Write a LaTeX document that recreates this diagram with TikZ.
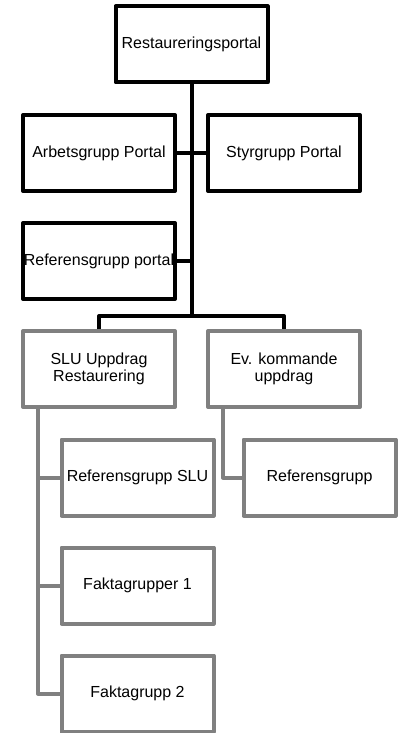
\documentclass[tikz,border=0pt]{standalone}
\usepackage{fontspec}
\setmainfont{Liberation Sans}
\usetikzlibrary{positioning}

\begin{document}
\begin{tikzpicture}[
    box/.style={draw, line width=4pt, line join=round, fill=white,
        minimum width=152pt, minimum height=76pt, inner sep=0pt,
        align=center, font=\fontsize{16}{17.5}\selectfont},
    blk/.style={box, draw=black},
    gry/.style={box, draw=black!50},
    blkline/.style={draw=black, line width=4pt, line join=round},
    gryline/.style={draw=black!50, line width=4pt, line join=round}]
    \useasboundingbox (0,0) rectangle (397pt,-733pt);

    \node[blk] (top) at (191.5pt,-44.5pt) {Restaureringsportal};
    \node[blk, below=28.5pt of top, xshift=-92.5pt] (arb) {Arbetsgrupp Portal};
    \node[blk, right=29pt of arb] (styr) {Styrgrupp Portal};
    \node[blk, below=28pt of arb] (refp) {Referensgrupp portal};
    \node[gry, below=28pt of refp] (slu) {SLU Uppdrag\\Restaurering};
    \node[gry, right=29pt of slu] (ev) {Ev. kommande\\uppdrag};
    \node[gry, below=28.5pt of slu, xshift=38.5pt] (refslu) {Referensgrupp SLU};
    \node[gry, below=28pt of refslu] (f1) {Faktagrupper 1};
    \node[gry, below=28pt of f1] (f2) {Faktagrupp 2};
    \node[gry, below=28.5pt of ev, xshift=35.5pt] (ref) {Referensgrupp};

    \coordinate (bus) at ([yshift=13pt]slu.north -| top.south);
    \coordinate (s1) at ([xshift=17pt]slu.south west);
    \coordinate (s2) at ([xshift=17pt]ev.south west);

    \path[blkline] (top.south) -- (bus);
    \path[blkline] (arb.east) -- (styr.west);
    \path[blkline] (refp.east) -- (refp.east -| top.south);
    \path[blkline] (slu.north) |- (bus) -| (ev.north);

    \path[gryline] (s1) |- (f2.west);
    \path[gryline] (s1 |- refslu.west) -- (refslu.west);
    \path[gryline] (s1 |- f1.west) -- (f1.west);
    \path[gryline] (s2) |- (ref.west);
\end{tikzpicture}
\end{document}
